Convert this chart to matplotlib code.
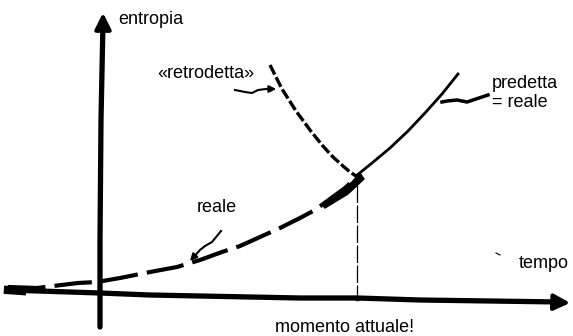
import matplotlib.pyplot as plt
import numpy as np

plt.rcParams['font.family'] = ['Liberation Sans', 'DejaVu Sans']

# sketch, in pixel units (y grows downward)
asse_x = [8, 100, 150, 300, 357, 420, 560]
asse_y = [290, 293, 295, 298, 298, 300, 302]
asse_v_x = [100, 100, 101, 103]
asse_v_y = [327, 240, 120, 22]

reale_x = [8, 37, 78, 97, 120, 150, 177, 200, 222, 240, 260, 280, 300, 315, 330, 345, 357]
reale_y = [287, 288, 283, 282, 278, 272, 267, 260, 252, 246, 237, 228, 218, 210, 199, 188, 177]

retro_x = [270, 282, 296, 310, 322, 333, 343, 350, 356]
retro_y = [65, 89, 111, 130, 145, 157, 166, 172, 176]

predetta_x = [356, 372, 390, 408, 425, 442, 458]
predetta_y = [176, 163, 148, 131, 113, 94, 74]

etichette = ["entropia", "«retrodetta»", "predetta\n= reale", "reale", "tempo", "momento attuale!"]
etichette_pos = [(118, 20), (157, 73), (492, 93), (197, 208), (519, 263), (345, 327)]

fig = plt.figure(figsize=(5.73, 3.36), dpi=100)
ax = fig.add_axes([0, 0, 1, 1])
ax.set_xlim(0, 573)
ax.set_ylim(336, 0)
ax.axis('off')

# axes
ax.plot(asse_x, asse_y, color='black', lw=3.8, solid_capstyle='butt')
ax.plot([8, 22], [290, 291], color='black', lw=6)
ax.annotate('', xy=(573, 303), xytext=(548, 302),
            arrowprops=dict(arrowstyle='-|>', color='black', lw=3, mutation_scale=24))
ax.plot(asse_v_x, asse_v_y, color='black', lw=3.8, solid_capstyle='round')
ax.annotate('', xy=(103, 10), xytext=(103, 36),
            arrowprops=dict(arrowstyle='-|>', color='black', lw=3, mutation_scale=24))

# curves
ax.plot(reale_x, reale_y, color='black', lw=3, dashes=(9, 2.2), solid_capstyle='butt')
ax.plot(retro_x, retro_y, color='black', lw=2.4, dashes=(3.2, 0.9))
ax.plot(predetta_x, predetta_y, color='black', lw=2)
ax.fill([322, 338, 352, 360, 364, 348, 325], [205, 194, 182, 173, 179, 194, 208], color='black')

# present moment
ax.plot([357, 357], [185, 298], color='black', lw=0.9, dashes=(14, 2))
ax.plot([357], [298], 'o', color='black', ms=3)

# pointer arrows
ax.plot([235, 245, 252, 258, 266], [90, 92, 93, 90, 89], color='black', lw=1.5)
ax.annotate('', xy=(279, 89), xytext=(264, 89),
            arrowprops=dict(arrowstyle='-|>', color='black', lw=1.5, mutation_scale=10))
ax.plot([221, 212, 205, 200], [231, 242, 246, 250], color='black', lw=1.5)
ax.annotate('', xy=(188, 263), xytext=(201, 249),
            arrowprops=dict(arrowstyle='-|>', color='black', lw=1.5, mutation_scale=10))
ax.plot([488, 467, 457, 447, 442], [95, 102, 100, 101, 102], color='black', lw=2.5)
ax.plot([496, 500], [253, 255], color='black', lw=0.8)

for testo, (x, y) in zip(etichette, etichette_pos):
    ha = 'center' if testo == "momento attuale!" else 'left'
    ax.text(x, y, testo, fontsize=13, ha=ha, va='center', linespacing=1.15)

fig.savefig('out.png', dpi=100)
